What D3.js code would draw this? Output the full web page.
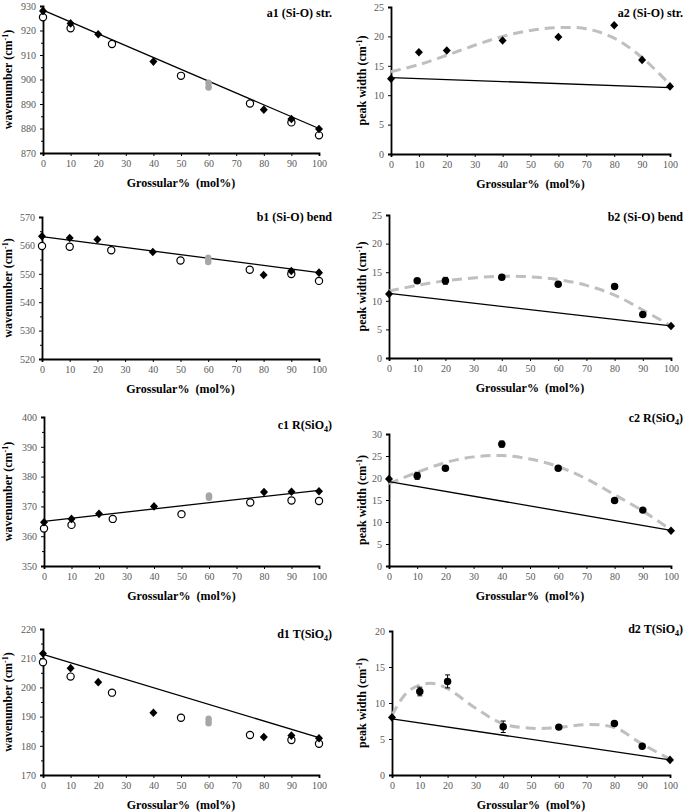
<!DOCTYPE html>
<html>
<head>
<meta charset="utf-8">
<script src="https://cdn.jsdelivr.net/npm/d3@7"></script>
<style>
  body { margin: 0; background: #fff; }
  svg { display: block; font-family: "Liberation Serif", "Times New Roman", serif; }
</style>
</head>
<body>
<svg id="chart" width="685" height="812"></svg>
<script>
// x positions (mol% grossular)
const diamondX = [0, 10, 20, 40, 80, 90, 100];
const circleX = [0, 10, 25, 50, 75, 90, 100];
const greyX = 60;
const fitX = [0, 100];
const widthX = [0, 10, 20, 40, 60, 80, 90, 100];
const curveX = [0, 10, 20, 30, 40, 50, 60, 70, 80, 90, 100];
const d2CurveX = [0, 5, 10, 15, 20, 30, 40, 50, 60, 70, 80, 90, 100];
const xTicks = [0, 10, 20, 30, 40, 50, 60, 70, 80, 90, 100];

// wavenumber panels
const a1Diamond = [928.0, 922.9, 918.5, 907.3, 887.7, 883.9, 879.8];
const a1Circle = [925.4, 920.9, 914.5, 901.5, 890.2, 882.5, 877.2];
const a1Grey = [896.8, 898.6];
const a1Fit = [928.3, 880.0];

const b1Diamond = [563.2, 562.6, 562.1, 557.7, 549.6, 551.0, 550.4];
const b1Circle = [559.8, 559.5, 558.3, 554.7, 551.4, 549.9, 547.5];
const b1Grey = [554.2, 555.6];
const b1Fit = [563.1, 550.4];

const c1Diamond = [364.7, 365.8, 367.5, 370.0, 374.8, 374.9, 375.1];
const c1Circle = [362.6, 363.8, 365.8, 367.4, 371.3, 372.0, 371.8];
const c1Grey = [373.0, 373.6];
const c1Fit = [365.0, 375.4];

const d1Diamond = [211.6, 206.6, 201.8, 191.3, 183.0, 183.5, 182.6];
const d1Circle = [208.6, 203.7, 198.2, 189.6, 183.7, 182.0, 180.7];
const d1Grey = [187.8, 189.2];
const d1Fit = [211.3, 182.8];

// peak width panels
const a2Width = [12.8, 17.3, 17.6, 19.3, 19.9, 21.9, 16.0, 11.5];
const a2Err = [0, 0, 0, 0, 0, 0, 0, 0];
const a2Fit = [13.0, 11.3];
const a2Curve = [14.0, 15.2, 16.8, 18.5, 20.0, 21.0, 21.5, 21.3, 19.7, 16.4, 11.8];

const b2Width = [11.2, 13.5, 13.5, 14.1, 12.9, 12.5, 7.6, 5.6];
const b2Err = [0, 0, 0.6, 0.4, 0, 0, 0, 0];
const b2Fit = [11.3, 5.6];
const b2Curve = [11.7, 12.7, 13.5, 14.0, 14.3, 14.2, 13.7, 12.7, 11.0, 8.4, 5.6];

const c2Width = [19.8, 20.5, 22.2, 27.7, 22.2, 14.9, 12.7, 8.0];
const c2Err = [0, 0.8, 0, 0.7, 0, 0, 0, 0];
const c2Fit = [19.2, 8.1];
const c2Curve = [18.7, 21.3, 23.5, 24.8, 25.1, 24.3, 22.6, 19.8, 16.2, 12.5, 8.2];

const d2Width = [8.0, 11.6, 13.0, 6.7, 6.65, 7.15, 4.0, 2.1];
const d2Err = [0, 0.6, 0.9, 0.8, 0, 0, 0, 0];
const d2Fit = [7.8, 2.1];
const d2Curve = [8.3, 11.3, 12.5, 12.7, 12.0, 9.3, 7.1, 6.5, 6.6, 7.0, 6.6, 4.3, 2.2];

const svg = d3.select("#chart");
const diamond = "M0,-4.3L4,0L0,4.3L-4,0Z";

function drawFrame(p) {
  const x = d3.scaleLinear().domain([0, 100]).range([p.left, p.right]);
  const y = d3.scaleLinear().domain(p.domain).range([p.bottom, p.top]);
  const g = svg.append("g");

  // y axis with major + minor ticks
  const yAxis = d3.axisLeft(y).tickValues(p.yTicks).tickSize(3).tickPadding(4);
  const ga = g.append("g").attr("transform", `translate(${p.left},0)`).call(yAxis);
  if (p.minor) {
    g.append("g").attr("transform", `translate(${p.left},0)`)
      .call(d3.axisLeft(y).tickValues(p.minor).tickSize(2).tickFormat(""))
      .call(a => a.select(".domain").remove())
      .selectAll("line").attr("stroke", "#000");
  }
  const gx = g.append("g").attr("transform", `translate(0,${p.bottom})`)
    .call(d3.axisBottom(x).tickValues(xTicks).tickSize(3).tickPadding(4));
  [ga, gx].forEach(a => {
    a.select(".domain").attr("stroke", "#000").attr("stroke-width", 1.8);
    a.selectAll(".tick line").attr("stroke", "#000").attr("stroke-width", 1);
    a.selectAll("text").attr("fill", "#595959").attr("font-size", "10px")
      .attr("font-family", "Liberation Serif");
  });

  // axis titles
  g.append("text")
    .attr("x", (p.left + p.right) / 2).attr("y", p.bottom + 34)
    .attr("text-anchor", "middle").attr("font-size", "12px").attr("font-weight", "bold")
    .text("Grossular%\u00a0\u00a0(mol%)");
  const yt = g.append("text")
    .attr("transform", `translate(${p.yTitleX},${(p.top + p.bottom) / 2}) rotate(-90)`)
    .attr("text-anchor", "middle").attr("font-size", "12px").attr("font-weight", "bold");
  yt.append("tspan").text(p.yLabel + " (cm");
  yt.append("tspan").attr("font-size", "8px").attr("dy", -4).text("-1");
  yt.append("tspan").attr("dy", 4).text(")");

  // panel title
  const t = g.append("text")
    .attr("x", p.titleX).attr("y", p.titleY)
    .attr("text-anchor", "end").attr("font-size", "12px").attr("font-weight", "bold");
  t.append("tspan").text(p.title);
  if (p.sub) {
    t.append("tspan").text("(SiO");
    t.append("tspan").attr("font-size", "8px").attr("dy", 3).text("4");
    t.append("tspan").attr("dy", -3).text(")");
  }
  return { x, y, g };
}

function drawWavenumber(p) {
  const { x, y, g } = drawFrame(p);
  const line = d3.line().x(d => x(d[0])).y(d => y(d[1]));
  g.append("path").datum(d3.zip(fitX, p.fit))
    .attr("d", line).attr("fill", "none").attr("stroke", "#000").attr("stroke-width", 1.3);

  g.selectAll(".grey").data(p.grey).join("ellipse")
    .attr("cx", x(greyX)).attr("cy", d => y(d))
    .attr("rx", 3.3).attr("ry", 3.5).attr("fill", "#a6a6a6");

  g.selectAll(".circ").data(d3.zip(circleX, p.circle)).join("circle")
    .attr("cx", d => x(d[0])).attr("cy", d => y(d[1])).attr("r", 3.6)
    .attr("fill", "#fff").attr("stroke", "#000").attr("stroke-width", 1.2);

  g.selectAll(".dia").data(d3.zip(diamondX, p.diamond)).join("path")
    .attr("transform", d => `translate(${x(d[0])},${y(d[1])})`)
    .attr("d", diamond).attr("fill", "#000");
}

function drawWidth(p) {
  const { x, y, g } = drawFrame(p);
  const line = d3.line().x(d => x(d[0])).y(d => y(d[1]));
  g.append("path").datum(d3.zip(p.curveX || curveX, p.curve))
    .attr("d", line.curve(d3.curveCatmullRom.alpha(0.5)))
    .attr("fill", "none").attr("stroke", "#bfbfbf").attr("stroke-width", 3)
    .attr("stroke-dasharray", "10,6");
  g.append("path").datum(d3.zip(fitX, p.fit))
    .attr("d", d3.line().x(d => x(d[0])).y(d => y(d[1])))
    .attr("fill", "none").attr("stroke", "#000").attr("stroke-width", 1.3);

  const pts = d3.zip(widthX, p.width, p.err);
  g.selectAll(".err").data(pts.filter(d => d[2] > 0)).join("g")
    .each(function(d) {
      const e = d3.select(this);
      e.append("line").attr("x1", x(d[0])).attr("x2", x(d[0]))
        .attr("y1", y(d[1] - d[2])).attr("y2", y(d[1] + d[2])).attr("stroke", "#000");
      [d[1] - d[2], d[1] + d[2]].forEach(v => e.append("line")
        .attr("x1", x(d[0]) - 2.5).attr("x2", x(d[0]) + 2.5)
        .attr("y1", y(v)).attr("y2", y(v)).attr("stroke", "#000"));
    });
  g.selectAll(".pt").data(pts).join("path")
    .attr("transform", d => `translate(${x(d[0])},${y(d[1])})`)
    .attr("d", d => (p.dots && d[0] > 0 && d[0] < 100)
      ? d3.symbol(d3.symbolCircle, 44)() : diamond)
    .attr("fill", "#000");
}

const left = { yLabel: "wavenumber", yTitleX: 12, titleX: 332 };
const right = { yLabel: "peak width", yTitleX: 366, titleX: 683 };

drawWavenumber({ ...left, left: 43, right: 319, top: 6, bottom: 153, domain: [870, 930],
  yTicks: d3.range(870, 931, 10), minor: d3.range(875, 930, 10), title: "a1 (Si-O) str.", titleY: 17,
  diamond: a1Diamond, circle: a1Circle, grey: a1Grey, fit: a1Fit });
drawWavenumber({ ...left, left: 42, right: 319, top: 217, bottom: 359, domain: [520, 570],
  yTicks: d3.range(520, 571, 10), minor: d3.range(525, 570, 10), title: "b1 (Si-O) bend", titleY: 221,
  diamond: b1Diamond, circle: b1Circle, grey: b1Grey, fit: b1Fit });
drawWavenumber({ ...left, left: 44, right: 319, top: 417, bottom: 566, domain: [350, 400],
  yTicks: d3.range(350, 401, 10), minor: d3.range(355, 400, 10), title: "c1 R", sub: true, titleY: 429,
  diamond: c1Diamond, circle: c1Circle, grey: c1Grey, fit: c1Fit });
drawWavenumber({ ...left, left: 43, right: 319, top: 629, bottom: 775, domain: [170, 220],
  yTicks: d3.range(170, 221, 10), minor: d3.range(175, 220, 10), title: "d1 T", sub: true, titleY: 638,
  diamond: d1Diamond, circle: d1Circle, grey: d1Grey, fit: d1Fit });

drawWidth({ ...right, left: 391, right: 670, top: 7, bottom: 154, domain: [0, 25],
  yTicks: d3.range(0, 26, 5), title: "a2 (Si-O) str.", titleY: 17,
  width: a2Width, err: a2Err, fit: a2Fit, curve: a2Curve });
drawWidth({ ...right, left: 389, right: 671, top: 215, bottom: 358, domain: [0, 25],
  yTicks: d3.range(0, 26, 5), title: "b2 (Si-O) bend", titleY: 221, dots: true,
  width: b2Width, err: b2Err, fit: b2Fit, curve: b2Curve });
drawWidth({ ...right, left: 389, right: 671, top: 434, bottom: 566, domain: [0, 30],
  yTicks: d3.range(0, 31, 5), title: "c2 R", sub: true, titleY: 422, dots: true,
  width: c2Width, err: c2Err, fit: c2Fit, curve: c2Curve });
drawWidth({ ...right, left: 392, right: 670, top: 631, bottom: 775, domain: [0, 20],
  yTicks: d3.range(0, 21, 5), title: "d2 T", sub: true, titleY: 633, dots: true,
  width: d2Width, err: d2Err, fit: d2Fit, curve: d2Curve, curveX: d2CurveX });
</script>
</body>
</html>
